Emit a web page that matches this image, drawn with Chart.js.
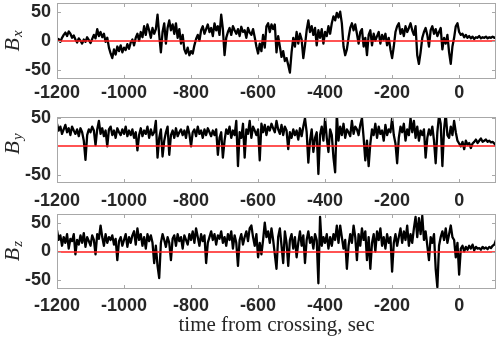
<!DOCTYPE html>
<html><head><meta charset="utf-8">
<script src="https://cdn.jsdelivr.net/npm/chart.js@4.4.1/dist/chart.umd.min.js"></script>
<style>
html,body{margin:0;padding:0;background:#fff;}
#wrap{position:relative;width:498px;height:339px;overflow:hidden;}
.pn{position:absolute;left:0;width:498px;}
</style></head>
<body>
<div id="wrap">
  <div class="pn" style="top:0;height:110px"><canvas id="c1"></canvas></div>
  <div class="pn" style="top:110px;height:106px"><canvas id="c2"></canvas></div>
  <div class="pn" style="top:210px;height:129px"><canvas id="c3"></canvas></div>
</div>
<script>
// ---- data (nT, sampled every 5 s from -1200 s to 110 s) ----
const T_START = -1200;
const T_STEP = 5;
const X_MIN = -1200;
const X_MAX = 110;
const X_TICKS = [-1200, -1000, -800, -600, -400, -200, 0];
const Y_TICKS_X = [-50, 0, 50];
const Y_TICKS_Y = [-50, 50];
const Y_TICKS_Z = [-50, 0, 50];
const REF_LEVEL = 0;

const BX = [
  0, 3, -2, 5, 10, 14, 8, 16, 12, 5, 9, 2, -3, 4, 0, -5, 2, -2, 6, 1,
  -4, 3, 10, 4, 20, 8, 15, 6, 12, -2, 5, -12, -22, -30, -15, -24, -10, -18, -8, -20,
  -12, -16, -6, -14, -3, 2, -8, 5, 12, 0, 15, 6, 25, 10, 28, 18, 5, 22, 12, 20,
  45, 10, -20, 15, 30, -5, 22, 35, 18, 28, 12, 30, 5, 20, -5, 10, -15, -22, -12, -25,
  -18, -22, -8, 3, 10, 0, 18, 25, 12, 20, 28, 15, 22, 8, 30, 18, 25, 10, 45, 20,
  -25, 5, 15, 22, 10, 25, 18, 12, 20, 8, 24, 15, 18, 5, 22, 14, 10, 20, 6, -10,
  -22, -5, -18, 10, -12, 25, 30, 15, 28, 20, 28, -20, 8, -10, -28, -18, -35, -30, -42, -55,
  -20, 5, -10, 15, -5, 12, 2, -30, -8, 18, 35, 15, 25, 10, 22, -8, 18, 5, 20, -5,
  15, 8, 25, 12, 30, 42, 35, 48, 40, 50, 30, -10, -25, -15, 5, 22, 30, 18, 28, 12,
  -5, 15, 20, -10, 5, -25, 10, 18, -8, 12, 0, 8, 15, -5, 10, 2, 12, -8, 5, -15,
  -30, -10, 15, 25, 30, 12, 20, 8, 25, 15, 22, 30, 18, 10, 25, -25, -40, -20, 5, 15,
  22, 10, -10, 18, 25, 12, 20, 8, 15, 22, -15, 5, -5, 10, -20, -40, -10, 5, 25, 30,
  15, 10, 12, 6, 10, 5, 8, 4, 7, 3, 6, 5, 8, 4, 6, 5, 7, 4, 6, 5,
  7, 5, 6
];
const BY = [
  40, 28, 35, 22, 30, 38, 25, 32, 20, 35, 28, 22, 30, 18, 32, 25, 10, -24, 20, 30,
  25, 35, 28, 2, 30, 45, 22, 32, 18, 28, 0, 30, 35, 20, 28, 15, 32, 25, 20, 30,
  22, 35, 18, 28, 20, 30, 15, 25, -7, 20, 32, 18, 28, 22, 35, 15, 30, 20, 25, 45,
  -20, 15, 30, -18, 10, 25, 35, -15, 20, 28, 15, 32, 18, 25, 30, 20, 28, 15, 35, 22,
  0, 25, 30, 18, 35, 22, 28, 15, 30, 20, 32, 25, 18, 28, 20, 30, -15, 15, 25, -20,
  10, 30, 22, 35, 15, 28, 20, 45, -35, 25, 15, 40, -20, 30, 22, 45, 15, 35, 28, 20,
  30, -25, 40, 25, 38, 20, 35, 28, 40, 32, 25, 45, 30, 22, 38, 20, 35, 28, -5, 25,
  15, 30, 20, 28, 12, 32, 18, 35, 50, 25, -29, 10, 30, -10, 15, 25, -49, 20, 35, 10,
  50, 15, -10, 30, 20, -20, -46, 58, 10, 35, 20, 40, 15, 30, 25, 18, 45, 22, 35, 30,
  20, 38, 50, 15, -25, 10, -35, 5, 30, 20, 40, 15, 35, 22, 28, 10, 38, 20, 30, 25,
  50, 20, 5, -30, 15, 35, 25, 40, 10, 30, 20, 50, 25, 45, 15, 35, 10, 28, 20, 30,
  -20, 15, 30, 20, 35, 10, -30, 25, 55, 40, -35, 30, 58, 20, 15, 35, 20, 45, 25, 10,
  5, 0, 8, -5, 10, 3, 6, -3, 5, 8, 12, 6, 10, 14, 8, 10, 12, 8, 10, 7,
  8, 5, 1
];
const BZ = [
  37, 20, 28, 10, 25, 15, 30, 5, 22, 18, 30, -5, 20, 12, 28, 15, 32, 8, 25, 18,
  10, 28, 20, -5, 30, 22, 45, 25, 10, 30, 15, 25, 20, 28, 12, 22, -15, 18, 25, 10,
  20, 30, 8, 25, 15, 28, 35, 12, 40, 20, 30, 10, 25, 5, 30, 18, 28, 15, -20, 10,
  -25, -46, 15, 30, 20, 8, 25, 15, -15, 22, 28, 10, 30, 18, 25, 5, 28, 20, 12, 30,
  20, 35, 15, 40, 25, 10, 30, 18, 28, -20, 15, 25, 35, 20, 30, 12, 28, 22, 35, 15,
  25, 10, 30, 20, 35, 5, 28, 15, -25, 20, 30, 12, 25, 35, 18, 40, 45, 25, 10, 30,
  -10, 15, -5, 20, 50, 25, 35, 15, 40, 20, -5, -30, 25, 40, 10, -20, 35, 15, -25, 20,
  30, 5, 25, -10, 15, 35, 10, 28, -20, 20, 35, 15, 25, 5, 30, 20, -55, 60, 10, 25,
  15, 30, 5, 25, 10, 30, 20, 45, 15, 45, 25, 5, 20, -30, 10, 30, 15, 45, 25, -15,
  30, 10, 40, 20, 35, -15, 25, -30, 15, 30, 0, 35, 20, 40, 10, 25, 5, 30, 15, 25,
  -35, 15, 30, 10, 25, 40, 15, 35, 20, 45, 10, 30, 15, 40, 60, 25, 58, 30, 62, 20,
  35, 10, -15, 25, 15, 30, -30, -62, 10, 25, 35, 20, 40, 15, 30, 45, 25, 20, -10, 15,
  -40, 5, 10, 0, 8, 3, 10, 5, 12, 2, 8, 5, 6, 3, 8, 5, 7, 4, 8, 6,
  10, 12, 20
];
const X_TITLE = 'time from crossing, sec';

// ---- drawing ----
const TIME = BX.map((_, i) => T_START + i * T_STEP);
const TICK_FONT = {family: "'Liberation Sans', Arial, sans-serif", size: 18, weight: 'bold'};
const TEXT_COLOR = '#262626';
const FRAME_COLOR = '#a8a8a8';

const framePlugin = {
  id: 'frame',
  afterDatasetsDraw(chart) {
    const {ctx, chartArea: a, scales: {x, y}} = chart;
    const o = chart.options.plugins.frame;
    ctx.save();
    const yz = Math.round(y.getPixelForValue(REF_LEVEL));
    ctx.strokeStyle = '#ff1a1a';
    ctx.lineWidth = 1.6;
    ctx.beginPath(); ctx.moveTo(a.left, yz); ctx.lineTo(a.right, yz); ctx.stroke();
    ctx.strokeStyle = FRAME_COLOR;
    ctx.lineWidth = 1;
    ctx.strokeRect(Math.round(a.left) + 0.5, Math.round(a.top) + 0.5,
                   Math.round(a.width) - 1, Math.round(a.height) - 1);
    const L = 4;
    ctx.beginPath();
    x.ticks.forEach(t => {
      const px = Math.round(x.getPixelForValue(t.value)) + 0.5;
      ctx.moveTo(px, a.bottom); ctx.lineTo(px, a.bottom - L);
      ctx.moveTo(px, a.top); ctx.lineTo(px, a.top + L);
    });
    y.ticks.forEach(t => {
      const py = Math.round(y.getPixelForValue(t.value)) + 0.5;
      ctx.moveTo(a.left, py); ctx.lineTo(a.left + L, py);
      ctx.moveTo(a.right, py); ctx.lineTo(a.right - L, py);
    });
    ctx.stroke();
    ctx.fillStyle = TEXT_COLOR;
    ctx.translate(o.labelX, o.labelY);
    ctx.rotate(-Math.PI / 2);
    const f1 = "italic 22px 'Liberation Serif', 'Times New Roman', serif";
    const f2 = "italic 15px 'Liberation Serif', 'Times New Roman', serif";
    ctx.font = f1; const w1 = ctx.measureText('B').width;
    ctx.font = f2; const w2 = ctx.measureText(o.sub).width;
    const x0 = -(w1 + w2 + 1) / 2;
    ctx.textBaseline = 'alphabetic';
    ctx.font = f1; ctx.fillText('B', x0, 0);
    ctx.font = f2; ctx.fillText(o.sub, x0 + w1 + 1, 3);
    ctx.restore();
  }
};

function makePanel(id, vals, cfg) {
  const xScale = {
    type: 'linear', min: X_MIN, max: X_MAX,
    grid: {display: false, drawTicks: false}, border: {display: false},
    ticks: {font: TICK_FONT, color: TEXT_COLOR, padding: cfg.xPad, autoSkip: false, maxRotation: 0,
            callback: v => String(v)},
    afterBuildTicks: s => { s.ticks = X_TICKS.map(v => ({value: v})); },
    afterFit: s => { s.height = cfg.xH; s.paddingLeft = 0; s.paddingRight = 0; s.paddingTop = 0; s.paddingBottom = 0; }
  };
  if (cfg.title) {
    xScale.title = {display: true, text: X_TITLE, color: TEXT_COLOR,
      font: {family: "'Liberation Serif', 'Times New Roman', serif", size: 21},
      padding: {top: 0, bottom: 1}};
  }
  new Chart(document.getElementById(id), {
    type: 'line',
    data: {datasets: [{
      data: TIME.map((t, i) => ({x: t, y: vals[i]})),
      borderColor: '#000', borderWidth: 2.3, pointRadius: 0, tension: 0, fill: false,
      borderJoinStyle: 'round'
    }]},
    options: {
      animation: false, responsive: true, maintainAspectRatio: false,
      layout: {padding: {top: cfg.top, right: 2, left: 0, bottom: 0}},
      plugins: {legend: {display: false}, tooltip: {enabled: false},
                frame: {sub: cfg.sub, labelX: 19, labelY: cfg.labelY}},
      scales: {
        x: xScale,
        y: {
          type: 'linear', min: cfg.min, max: cfg.max,
          grid: {display: false, drawTicks: false}, border: {display: false},
          ticks: {font: TICK_FONT, color: TEXT_COLOR, padding: 6, callback: v => String(v)},
          afterBuildTicks: s => { s.ticks = cfg.yTicks.map(v => ({value: v})); },
          afterFit: s => { s.width = 57; s.paddingTop = 0; s.paddingBottom = 0; s.paddingLeft = 0; s.paddingRight = 0; }
        }
      }
    },
    plugins: [framePlugin]
  });
}

makePanel('c1', BX, {top: 3, xH: 31, xPad: 3, min: -66, max: 65, yTicks: Y_TICKS_X, sub: 'x', labelY: 41});
makePanel('c2', BY, {top: 7, xH: 33, xPad: 7, min: -65, max: 52, yTicks: Y_TICKS_Y, sub: 'y', labelY: 34});
makePanel('c3', BZ, {top: 4, xH: 50, xPad: 6, min: -65, max: 65, yTicks: Y_TICKS_Z, sub: 'z', labelY: 41, title: true});
</script>
</body></html>
